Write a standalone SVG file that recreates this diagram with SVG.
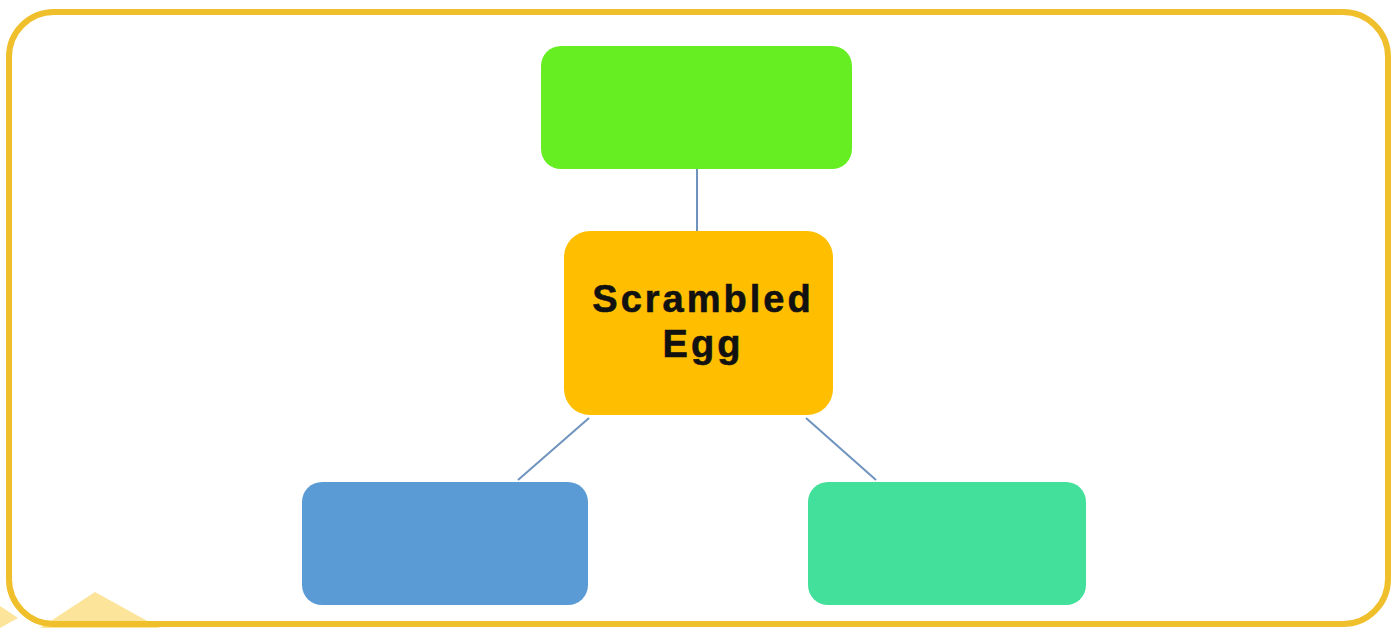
<svg xmlns="http://www.w3.org/2000/svg" width="1398" height="630" viewBox="0 0 1398 630">
<style>
.node{stroke:none}
.conn{stroke:#6E93BE;stroke-width:2;fill:none}
.label{font-family:"Liberation Sans",Arial,sans-serif;font-weight:bold;font-size:38px;fill:#111;text-anchor:middle;letter-spacing:3px;stroke:#111;stroke-width:0.6px}
</style>
<rect width="1398" height="630" fill="#FFFFFF"/>
<g id="decor">
<polygon points="40,628 95,592 160,628" fill="#FCE49A"/>
<polygon points="0,606 18,618 0,628" fill="#FCE49A"/>
</g>
<rect id="frame" x="9" y="12" width="1379" height="612" rx="45" ry="45" fill="none" stroke="#EFBF2C" stroke-width="6"/>
<g id="connectors">
<line class="conn" x1="697" y1="169" x2="697" y2="231"/>
<line class="conn" x1="589" y1="418" x2="518" y2="480"/>
<line class="conn" x1="806" y1="418" x2="876" y2="480"/>
</g>
<g id="node-top"><rect class="node" x="541" y="46" width="311" height="123" rx="20" fill="#66EE22"/></g>
<g id="node-center">
<rect class="node" x="564" y="231" width="269" height="184" rx="26" fill="#FFBF00"/>
<text class="label" x="703" y="312">Scrambled</text>
<text class="label" x="703" y="357">Egg</text>
</g>
<g id="node-left"><rect class="node" x="302" y="482" width="286" height="123" rx="20" fill="#5B9BD5"/></g>
<g id="node-right"><rect class="node" x="808" y="482" width="278" height="123" rx="20" fill="#42E09A"/></g>
</svg>
